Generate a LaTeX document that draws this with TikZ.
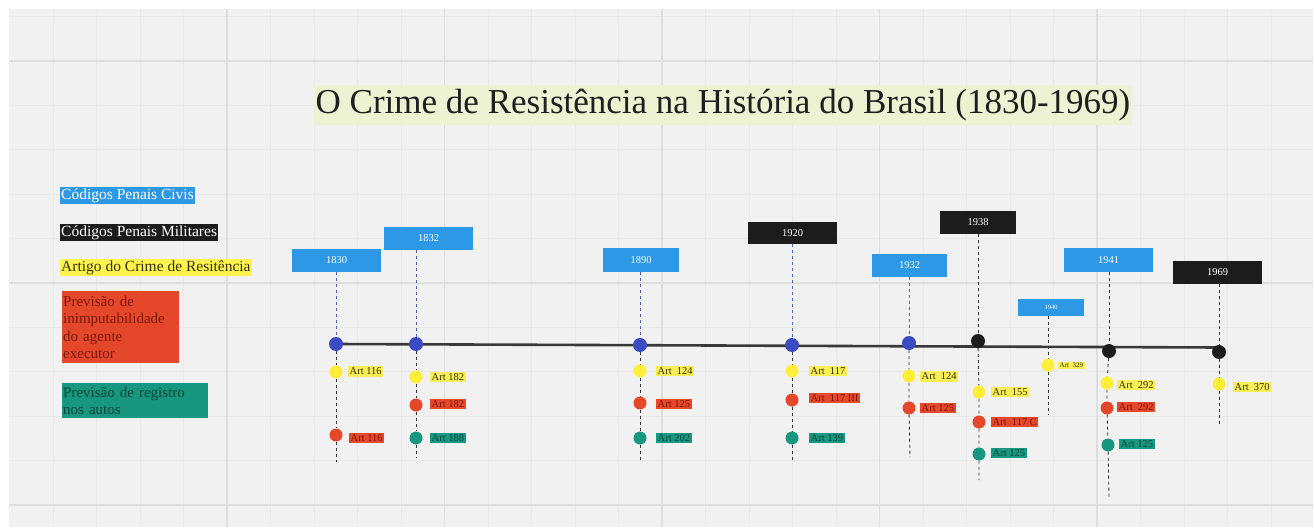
\documentclass[tikz,border=0pt]{standalone}
\usepackage{fontspec}
\setmainfont{Liberation Serif}
\definecolor{bgray}{HTML}{F1F1F1}
\definecolor{gminor}{HTML}{E9E9E9}
\definecolor{gmajor}{HTML}{DEDEDE}
\definecolor{civblue}{HTML}{2D99E6}
\definecolor{milblack}{HTML}{1C1C1C}
\definecolor{dotblue}{HTML}{3A4BC4}
\definecolor{dotyel}{HTML}{FFEE38}
\definecolor{labyel}{HTML}{F9EE55}
\definecolor{legyel}{HTML}{FFF44F}
\definecolor{dotred}{HTML}{E5472B}
\definecolor{dotgrn}{HTML}{17977F}
\definecolor{titlebg}{HTML}{EDF2D2}
\definecolor{darkred}{HTML}{7A1809}
\definecolor{darkgrn}{HTML}{0A4438}
\definecolor{darkyel}{HTML}{333300}
\definecolor{bluedash}{HTML}{5263C4}
\pgfdeclarelayer{gridlayer}
\pgfdeclarelayer{linelayer}
\pgfsetlayers{gridlayer,linelayer,main}
\tikzset{
  yearbox/.style={inner sep=0pt, minimum height=23pt, text=white, font=\fontsize{10.5}{12}\selectfont},
  civ/.style={yearbox, fill=civblue},
  mil/.style={yearbox, fill=milblack},
  maindot/.style={circle, inner sep=0pt, minimum size=14pt},
  bdot/.style={maindot, fill=dotblue},
  kdot/.style={maindot, fill=milblack},
  smalldot/.style={circle, inner sep=0pt, minimum size=13pt},
  ydot/.style={smalldot, fill=dotyel},
  rdot/.style={smalldot, fill=dotred},
  gdot/.style={smalldot, fill=dotgrn},
  lab/.style={anchor=west, inner xsep=1.5pt, inner ysep=1.5pt, font=\fontsize{10.5}{12}\selectfont},
  ylab/.style={lab, fill=labyel, text=darkyel},
  rlab/.style={lab, fill=dotred, text=darkred},
  glab/.style={lab, fill=dotgrn, text=darkgrn},
  legend/.style={anchor=west, inner sep=1pt, font=\fontsize{15.5}{17.5}\selectfont},
  updash/.style={draw=bluedash, line width=0.9pt, dash pattern=on 3pt off 3pt},
  lowdash/.style={draw=black!80, line width=0.9pt, dash pattern=on 3pt off 3pt},
  timeline/.style={draw=black!78, line width=2.6pt}
}
\begin{document}
\begin{tikzpicture}[x=1pt,y=1pt]
\useasboundingbox (0,0) rectangle (1315,-527);
% ---------- background and grid ----------
\begin{pgfonlayer}{gridlayer}
\fill[white] (0,0) rectangle (1315,-527);
\fill[bgray] (9,-9) rectangle (1313,-527);
\begin{scope}
\clip (9,-9) rectangle (1313,-527);
\foreach \i in {-4,...,25} {\draw[gminor, line width=0.7pt] ({227+43.5*\i},-9) -- ({227+43.5*\i},-527);}
\foreach \j in {-1,...,10} {\draw[gminor, line width=0.7pt] (9,{-61-44.4*\j}) -- (1313,{-61-44.4*\j});}
\foreach \i in {0,5,10,15,20,25} {\draw[gmajor, line width=1.2pt] ({227+43.5*\i},-9) -- ({227+43.5*\i},-527);}
\foreach \j in {0,5,10} {\draw[gmajor, line width=1.2pt] (9,{-61-44.4*\j}) -- (1313,{-61-44.4*\j});}
\end{scope}
\end{pgfonlayer}

% ---------- title ----------
\node[fill=titlebg, inner xsep=2pt, inner ysep=0pt, minimum height=40pt, text=black!88,
      font=\fontsize{35}{40}\selectfont] (title) at (723,-105)
  {O Crime de Resistência na História do Brasil (1830-1969)};

% ---------- legend ----------
\node[legend, fill=civblue, text=white] (legciv) at (60,-195.5) {Códigos Penais Civis};
\node[legend, fill=milblack, text=white] (legmil) at (60,-232.5) {Códigos Penais Militares};
\node[legend, fill=legyel, text=darkyel] (legart) at (60,-267.5) {Artigo do Crime de Resitência};
\node[anchor=north west, fill=dotred, text=darkred, inner xsep=1pt, inner ysep=1pt,
      minimum width=117pt, minimum height=72pt, text width=115pt, align=left,
      font=\fontsize{15}{17.5}\selectfont] (legred) at (62,-291)
  {Previsão de\\inimputabilidade\\do agente\\executor};
\node[anchor=north west, fill=dotgrn, text=darkgrn, inner xsep=1pt, inner ysep=1pt,
      minimum width=146pt, minimum height=35pt, text width=144pt, align=left,
      font=\fontsize{15}{17.5}\selectfont] (leggrn) at (62,-383)
  {Previsão de registro\\nos autos};

% ---------- year boxes ----------
\node[civ, minimum width=89pt] (b1830) at (336.5,-260) {1830};
\node[civ, minimum width=89pt] (b1832) at (428.5,-238.5) {1832};
\node[civ, minimum width=76pt, minimum height=24pt] (b1890) at (641,-260) {1890};
\node[mil, minimum width=89pt, minimum height=22pt] (b1920) at (792.5,-233) {1920};
\node[civ, minimum width=75pt] (b1932) at (909.5,-265.5) {1932};
\node[mil, minimum width=76pt] (b1938) at (978,-222.5) {1938};
\node[civ, minimum width=66pt, minimum height=17pt, font=\fontsize{6.5}{8}\selectfont] (b1940) at (1051,-307.5) {1940};
\node[civ, minimum width=89pt, minimum height=24pt] (b1941) at (1108.5,-260) {1941};
\node[mil, minimum width=89pt] (b1969) at (1217.5,-272.5) {1969};

% ---------- timeline dots ----------
\node[bdot] (d1830) at (336,-344) {};
\node[bdot] (d1832) at (416,-344) {};
\node[bdot] (d1890) at (640,-345) {};
\node[bdot] (d1920) at (792,-345) {};
\node[bdot] (d1932) at (909,-343) {};
\node[kdot] (d1938) at (978,-341) {};
\node[kdot] (d1941) at (1109,-351) {};
\node[kdot] (d1969) at (1219,-352) {};

% ---------- article dots ----------
\node[ydot] (y1830) at (336,-372) {};
\node[rdot] (r1830) at (336,-435) {};
\coordinate (e1830) at (336,-462);

\node[ydot] (y1832) at (416,-377) {};
\node[rdot] (r1832) at (416,-405) {};
\node[gdot] (g1832) at (416,-438) {};
\coordinate (e1832) at (416,-458);

\node[ydot] (y1890) at (640,-371) {};
\node[rdot] (r1890) at (640,-403) {};
\node[gdot] (g1890) at (640,-438) {};
\coordinate (e1890) at (640,-462);

\node[ydot] (y1920) at (792,-371) {};
\node[rdot] (r1920) at (792,-400) {};
\node[gdot] (g1920) at (792,-438) {};
\coordinate (e1920) at (792,-460);

\node[ydot] (y1932) at (909,-376) {};
\node[rdot] (r1932) at (909,-408) {};
\coordinate (e1932) at (910,-457);

\node[ydot] (y1938) at (979,-392) {};
\node[rdot] (r1938) at (979,-422) {};
\node[gdot] (g1938) at (979,-454) {};
\coordinate (e1938) at (979,-480);

\node[ydot] (y1940) at (1048,-365) {};
\coordinate (e1940) at (1048,-414);

\node[ydot] (y1941) at (1107,-383) {};
\node[rdot] (r1941) at (1107,-408) {};
\node[gdot] (g1941) at (1108,-445) {};
\coordinate (e1941) at (1109,-497);

\node[ydot] (y1969) at (1219,-384) {};
\coordinate (e1969) at (1219,-424);

% ---------- article labels ----------
\node[ylab] (ly1830) at (348,-371.5) {Art 116};
\node[rlab] (lr1830) at (349,-438) {Art 116};
\node[ylab] (ly1832) at (430,-377) {Art 182};
\node[rlab] (lr1832) at (430,-404) {Art 182};
\node[glab] (lg1832) at (430,-438) {Art 188};
\node[ylab] (ly1890) at (656,-371) {Art~ 124};
\node[rlab] (lr1890) at (656,-404) {Art 125};
\node[glab] (lg1890) at (656,-438) {Art 202};
\node[ylab] (ly1920) at (809,-371) {Art~ 117};
\node[rlab] (lr1920) at (809,-398) {Art~ 117 III};
\node[glab] (lg1920) at (809,-438) {Art 139};
\node[ylab] (ly1932) at (920,-376.5) {Art~ 124};
\node[rlab] (lr1932) at (920,-408) {Art 125};
\node[ylab] (ly1938) at (991,-392) {Art~ 155};
\node[rlab] (lr1938) at (991,-422) {Art~ 117 C};
\node[glab] (lg1938) at (991,-453) {Art 125};
\node[ylab, font=\fontsize{7}{8}\selectfont] (ly1940) at (1058,-365.5) {Art~ 329};
\node[ylab] (ly1941) at (1117,-385) {Art~ 292};
\node[rlab] (lr1941) at (1117,-407) {Art~ 292};
\node[glab] (lg1941) at (1119,-444) {Art 125};
\node[ylab] (ly1969) at (1233,-387) {Art~ 370};

% ---------- connectors ----------
\begin{pgfonlayer}{linelayer}
\coordinate (tlL) at (d1830.center);
\coordinate (tlR) at (d1969.center);
\draw[timeline] (tlL |- 0,-344) -- (tlR |- 0,-347.5);
% upper dashed
\draw[updash] (b1830.south -| d1830) -- (d1830);
\draw[updash] (b1832.south -| d1832) -- (d1832);
\draw[updash] (b1890.south -| d1890) -- (d1890);
\draw[updash] (b1920.south -| d1920) -- (d1920);
\draw[updash] (b1932.south -| d1932) -- (d1932);
\draw[lowdash] (b1938.south -| d1938) -- (d1938);
\draw[lowdash] (b1941.south -| d1941) -- (d1941);
\draw[lowdash] (b1969.south -| d1969) -- (d1969);
\draw[lowdash] (b1940.south -| y1940) -- (y1940) -- (e1940);
% lower dashed
\draw[lowdash] (d1830) -- (y1830) -- (r1830) -- (e1830);
\draw[lowdash] (d1832) -- (y1832) -- (r1832) -- (g1832) -- (e1832);
\draw[lowdash] (d1890) -- (y1890) -- (r1890) -- (g1890) -- (e1890);
\draw[lowdash] (d1920) -- (y1920) -- (r1920) -- (g1920) -- (e1920);
\draw[lowdash] (d1932) -- (y1932) -- (r1932) -- (e1932);
\draw[lowdash] (d1938) -- (y1938) -- (r1938) -- (g1938) -- (e1938);
\draw[lowdash] (d1941) -- (y1941) -- (r1941) -- (g1941) -- (e1941);
\draw[lowdash] (d1969) -- (y1969) -- (e1969);
\end{pgfonlayer}
\end{tikzpicture}
\end{document}
